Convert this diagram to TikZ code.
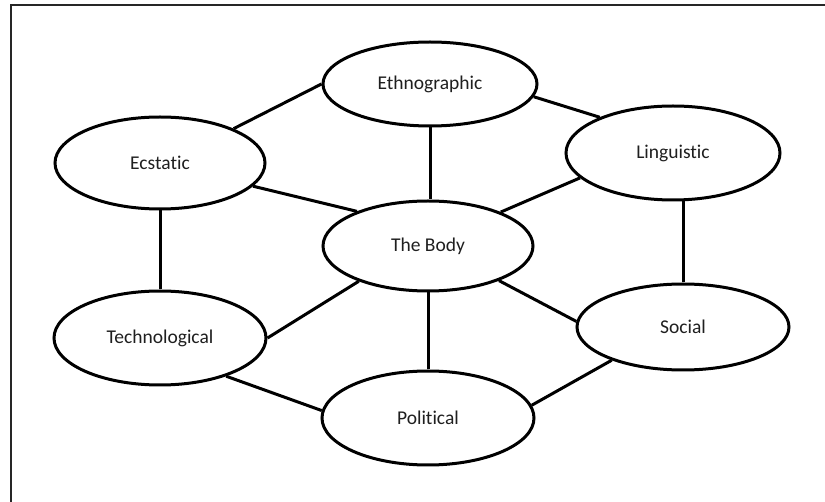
\documentclass[tikz,border=0pt]{standalone}
\usepackage{fontspec}
\setmainfont{Carlito}[Ligatures={NoCommon}]
\usetikzlibrary{shapes.geometric}
\begin{document}
\begin{tikzpicture}[x=1pt,y=-1pt,
  oval/.style={ellipse,draw=black,line width=3pt,fill=white,inner sep=0pt,
    font=\fontsize{19.5}{22}\selectfont,text=black!88},
  link/.style={draw=black,line width=3pt}]
\useasboundingbox (0,0) rectangle (825,502);
\fill[white] (0,0) rectangle (825,502);
\draw[line width=1.3pt,black!85] (11,502) -- (11,5) -- (825,5);
\node[oval,minimum width=214pt,minimum height=84pt] (eth) at (430,84) {Ethnographic};
\node[oval,minimum width=210pt,minimum height=92pt] (ecs) at (160,163) {Ecstatic};
\node[oval,minimum width=214pt,minimum height=94pt] (lin) at (673,153) {Linguistic};
\node[oval,minimum width=210pt,minimum height=90pt] (body) at (428,246) {The Body};
\node[oval,minimum width=212pt,minimum height=94pt] (tech) at (160,338) {Technological};
\node[oval,minimum width=212pt,minimum height=86pt] (soc) at (683,327) {Social};
\node[oval,minimum width=212pt,minimum height=94pt] (pol) at (428,418) {Political};
\path[link] (ecs.25) -- (eth.180);
\path[link] (eth.-7) -- (lin.154);
\path[link] (eth.south) -- (eth.south |- body.north);
\path[link] (ecs.-14) -- (body.154);
\path[link] (lin.195) -- (body.25);
\path[link] (ecs.south) -- (tech.north);
\path[link] (soc.north) -- (soc.north |- lin.south);
\path[link] (body.207) -- (tech.0);
\path[link] (body.-26) -- (soc.177);
\path[link] (pol.north) -- (pol.north |- body.south);
\path[link] (tech.-30) -- (pol.176);
\path[link] (soc.205) -- (pol.7);
\end{tikzpicture}
\end{document}
